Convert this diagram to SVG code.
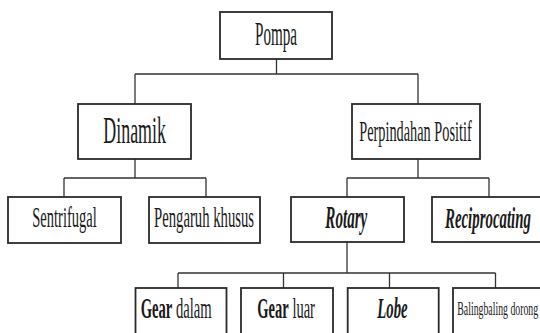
<svg xmlns="http://www.w3.org/2000/svg" width="540" height="333" viewBox="0 0 540 333">
<style>
.box{fill:#fff;stroke:#2a2a2a;stroke-width:1.8}
.ln{fill:none;stroke:#333;stroke-width:1.3}
text{font-family:"Liberation Serif","Times New Roman",serif;fill:#1a1a1a}
.bi{font-weight:bold;font-style:italic}
.b{font-weight:bold}
</style>
<rect width="540" height="333" fill="#fff"/>
<g id="connectors">
<path class="ln" d="M276.5 59V74M135 74H418M135 74V104M418 74V104"/>
<path class="ln" d="M135 159V178M64 178H206M64 178V197M206 178V197"/>
<path class="ln" d="M418 159V178M347 178H489M347 178V197M489 178V197"/>
<path class="ln" d="M347 242V273M178 273H495.5M178 273V288M283.5 273V288M389.5 273V288M495.5 273V288"/>
</g>
<g id="pompa"><rect class="box" x="220" y="12" width="112" height="47"/><text transform="translate(255 45) scale(0.458 1)" font-size="33">Pompa</text></g>
<g id="dinamik"><rect class="box" x="78" y="104" width="113" height="55"/><text transform="translate(103.3 143.3) scale(0.471 1)" font-size="38">Dinamik</text></g>
<g id="perpindahan"><rect class="box" x="352" y="104" width="128" height="55"/><text transform="translate(359.3 140.7) scale(0.493 1)" font-size="29">Perpindahan Positif</text></g>
<g id="sentrifugal"><rect class="box" x="8" y="197" width="113" height="46"/><text transform="translate(32.3 227) scale(0.5 1)" font-size="29">Sentrifugal</text></g>
<g id="pengaruh"><rect class="box" x="149" y="197" width="111" height="46"/><text transform="translate(154 227) scale(0.507 1)" font-size="29">Pengaruh khusus</text></g>
<g id="rotary"><rect class="box" x="291" y="197" width="113" height="45"/><text class="bi" transform="translate(325.3 227.5) scale(0.488 1)" font-size="31">Rotary</text></g>
<g id="reciprocating"><rect class="box" x="432" y="197" width="113" height="45"/><text class="bi" transform="translate(445 228) scale(0.496 1)" font-size="30">Reciprocating</text></g>
<g id="gear-dalam"><rect class="box" x="135.5" y="288" width="91" height="60"/><text transform="translate(140.7 318.3) scale(0.504 1)" font-size="29"><tspan class="b">Gear</tspan> dalam</text></g>
<g id="gear-luar"><rect class="box" x="241" y="288" width="92" height="60"/><text transform="translate(257.3 318.3) scale(0.501 1)" font-size="29"><tspan class="b">Gear</tspan> luar</text></g>
<g id="lobe"><rect class="box" x="347.7" y="288" width="91" height="60"/><text class="bi" transform="translate(377.3 318.3) scale(0.51 1)" font-size="29">Lobe</text></g>
<g id="balingbaling"><rect class="box" x="453" y="288" width="92" height="60"/><text transform="translate(457.3 315) scale(0.545 1)" font-size="18">Balingbaling dorong</text></g>
</svg>
